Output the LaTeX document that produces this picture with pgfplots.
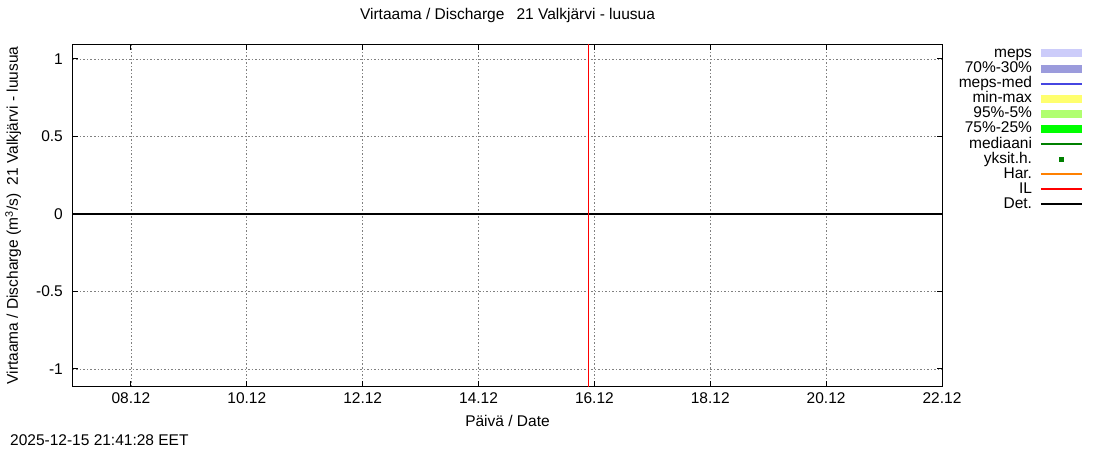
\documentclass[border=0pt]{standalone}
\usepackage{fontspec}
\setmainfont{Liberation Sans}
\usepackage{pgfplots}
\pgfplotsset{compat=1.18}

\definecolor{mepsband}{RGB}{204,204,250}
\definecolor{mepsmid}{RGB}{155,155,220}
\definecolor{mepsmed}{RGB}{70,70,225}
\definecolor{minmax}{RGB}{255,255,110}
\definecolor{p95}{RGB}{176,255,112}
\definecolor{p75}{RGB}{0,255,0}
\definecolor{median}{RGB}{0,128,0}
\definecolor{har}{RGB}{255,128,0}
\definecolor{il}{RGB}{255,0,0}

\pgfplotsset{
  band/.style={legend image code/.code={\draw[line width=8pt,#1] (0pt,0pt) -- (41pt,0pt);}},
  ln/.style={legend image code/.code={\draw[line width=2pt,#1] (0pt,0pt) -- (41pt,0pt);}},
}

\begin{document}
\begin{tikzpicture}[font=\fontsize{15.5}{18}\selectfont]
\useasboundingbox (0,0) rectangle (1100pt,450pt);
\begin{axis}[
  at={(73pt,64pt)}, anchor=south west, scale only axis,
  width=869pt, height=341pt,
  xmin=7, xmax=22, ymin=-1.11, ymax=1.09,
  xtick={8,10,12,14,16,18,20,22},
  xticklabels={08.12,10.12,12.12,14.12,16.12,18.12,20.12,22.12},
  ytick={-1,-0.5,0,0.5,1},
  yticklabels={-1,-0.5,0,0.5,1},
  tick align=inside, major tick length=5pt,
  tick style={black, line width=1pt},
  axis line style={black, line width=1pt},
  grid=major,
  grid style={gray, line width=0.8pt, dash pattern=on 1.5pt off 2pt},
  xticklabel style={inner sep=0pt, anchor=north, yshift=-6pt},
  yticklabel style={inner sep=0pt, anchor=east, xshift=-10pt},
  title={Virtaama / Discharge \hspace{0.5em}21 Valkjärvi - luusua},
  title style={anchor=base, at={(axis description cs:0.5,1)}, yshift=19.5pt, inner sep=0pt},
  xlabel={Päivä / Date},
  xlabel style={anchor=base, at={(axis description cs:0.5,0)}, yshift=-40.5pt, inner sep=0pt},
  ylabel={Virtaama / Discharge (m\textsuperscript{3}/s) \ 21 Valkjärvi - luusua},
  ylabel style={anchor=base, at={(axis description cs:-0.0633,0.5)}, inner sep=0pt},
  legend plot pos=right,
  legend cell align=right,
  legend style={draw=none, fill=none, inner sep=0pt, outer sep=0pt,
    at={(axis description cs:1.1657,0.9956)}, anchor=north east,
    column sep=5pt, row sep=1.1pt,
    nodes={inner sep=0pt, text height=11pt, text depth=3pt}},
]
\addlegendimage{band=mepsband}
\addlegendentry{meps}
\addlegendimage{band=mepsmid}
\addlegendentry{70\%-30\%}
\addlegendimage{ln=mepsmed}
\addlegendentry{meps-med}
\addlegendimage{band=minmax}
\addlegendentry{min-max}
\addlegendimage{band=p95}
\addlegendentry{95\%-5\%}
\addlegendimage{band=p75}
\addlegendentry{75\%-25\%}
\addlegendimage{ln=median}
\addlegendentry{mediaani}
\addlegendimage{legend image code/.code={\fill[median] (18.5pt,-2pt) rectangle (22.5pt,2pt);}}
\addlegendentry{yksit.h.}
\addlegendimage{ln=har}
\addlegendentry{Har.}
\addlegendimage{ln=il}
\addlegendentry{IL}
\addlegendimage{ln=black}
\addlegendentry{Det.}

% Det.
\addplot[forget plot, black, line width=2pt] coordinates {(7,0) (22,0)};
% IL
\addplot[forget plot, il, line width=1.2pt] coordinates {(15.9,-1.2) (15.9,1.2)};
\end{axis}
\node[anchor=base west, inner sep=0pt] at (10pt,5pt) {2025-12-15 21:41:28 EET};
\end{tikzpicture}
\end{document}
